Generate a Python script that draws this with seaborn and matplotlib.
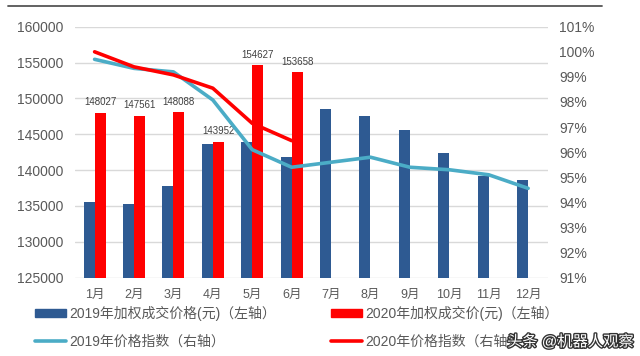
import numpy as np
import pandas as pd
import seaborn as sns
import matplotlib.pyplot as plt
import matplotlib.patheffects as pe
from matplotlib.lines import Line2D
from matplotlib.ticker import PercentFormatter

# 数据
months = ["1月", "2月", "3月", "4月", "5月", "6月", "7月", "8月", "9月", "10月", "11月", "12月"]
price_2019 = [135500, 135300, 137800, 143600, 143900, 141800, 148500, 147600, 145600, 142400, 139200, 138600]
price_2020 = [148027, 147561, 148088, 143952, 154627, 153658]
index_2019 = [0.997, 0.9934, 0.992, 0.9808, 0.961, 0.954, 0.956, 0.958, 0.954, 0.953, 0.951, 0.9456]
index_2020 = [1.000, 0.994, 0.9908, 0.9855, 0.9715, 0.9646]

lab_bar19 = "2019年加权成交价格(元)（左轴）"
lab_bar20 = "2020年加权成交价(元)（左轴）"
lab_line19 = "2019年价格指数（右轴）"
lab_line20 = "2020年价格指数（右轴）"

bars = pd.concat([
    pd.DataFrame({"month": months, "price": price_2019, "series": lab_bar19}),
    pd.DataFrame({"month": months[:len(price_2020)], "price": price_2020, "series": lab_bar20}),
])
lines = pd.concat([
    pd.DataFrame({"pos": np.arange(len(index_2019)), "idx": index_2019, "series": lab_line19}),
    pd.DataFrame({"pos": np.arange(len(index_2020)), "idx": index_2020, "series": lab_line20}),
])

sns.set_style("white")
plt.rcParams["font.family"] = ["Liberation Sans", "Noto Sans CJK SC", "DejaVu Sans"]
grey = "#595959"

fig = plt.figure(figsize=(6.4, 3.56), dpi=100)
ax = fig.add_axes([0.117, 0.22, 0.739, 0.705])

sns.barplot(data=bars, x="month", y="price", hue="series", order=months,
            palette=["#2E5A92", "#FF0000"], width=0.56, saturation=1,
            ax=ax, legend=False, linewidth=0)
ax.set_ylim(125000, 160000)
ax.set_yticks(np.arange(125000, 160001, 5000))
ax.grid(axis="y", color="#D9D9D9", linewidth=1)
ax.set_axisbelow(True)
for s in ax.spines.values():
    s.set_visible(False)
ax.set_xlabel("")
ax.set_ylabel("")
ax.tick_params(axis="y", labelsize=10, colors=grey, length=0, pad=8)
ax.tick_params(axis="x", labelsize=9, colors=grey, length=0, pad=8)
ax.set_xlim(-0.5, len(months) - 0.5)

# 2020 数据标签
ax.bar_label(ax.containers[1], fmt="%d", padding=4, fontsize=7, color="#404040")

ax2 = ax.twinx()
sns.lineplot(data=lines, x="pos", y="idx", hue="series",
             palette=["#4BACC6", "#FF0000"], linewidth=2.6, ax=ax2, legend=False)
ax2.set_ylim(0.91, 1.01)
ax2.set_yticks(np.arange(0.91, 1.0101, 0.01))
ax2.yaxis.set_major_formatter(PercentFormatter(1.0, decimals=0))
ax2.tick_params(axis="y", labelsize=10, colors=grey, length=0, pad=8)
ax2.set_ylabel("")
for s in ax2.spines.values():
    s.set_visible(False)
ax.set_xlim(-0.5, len(months) - 0.5)

# 图例
handles = [
    plt.Rectangle((0, 0), 1, 1, color="#2E5A92"),
    Line2D([], [], color="#4BACC6", linewidth=2.6),
    plt.Rectangle((0, 0), 1, 1, color="#FF0000"),
    Line2D([], [], color="#FF0000", linewidth=2.6),
]
labels = [lab_bar19, lab_line19, lab_bar20, lab_line20]
leg = fig.legend(handles, labels, ncol=2, loc="upper left", bbox_to_anchor=(0.035, 0.175),
                 frameon=False, fontsize=10, handlelength=2.23, handleheight=0.5,
                 handletextpad=0.22, columnspacing=4.0, labelspacing=0.95, labelcolor=grey)

# 顶部横线
fig.add_artist(Line2D([0.012, 0.94], [0.983, 0.983], color="#555555", linewidth=1.3))

# 水印
fig.text(0.99, 0.04, "头条 @机器人观察", ha="right", va="center", fontsize=11, color="white",
         path_effects=[pe.withStroke(linewidth=2, foreground="#333333")])

fig.savefig("out.png", dpi=100)
